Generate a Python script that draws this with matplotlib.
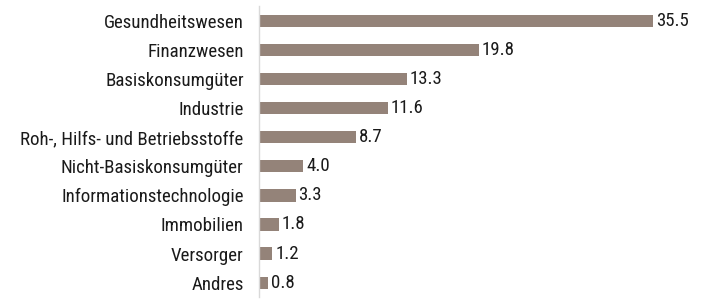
import matplotlib
matplotlib.use("Agg")
import matplotlib.pyplot as plt
from matplotlib import font_manager

categories = ["Gesundheitswesen", "Finanzwesen", "Basiskonsumgüter", "Industrie",
              "Roh-, Hilfs- und Betriebsstoffe", "Nicht-Basiskonsumgüter",
              "Informationstechnologie", "Immobilien", "Versorger", "Andres"]
values = [35.5, 19.8, 13.3, 11.6, 8.7, 4.0, 3.3, 1.8, 1.2, 0.8]

names = {f.name for f in font_manager.fontManager.ttflist}
fam = "DejaVu Sans"
for cand in ["Roboto Condensed", "Liberation Sans Narrow", "Archivo Narrow",
             "PT Sans Narrow", "Asap Condensed", "Barlow Condensed"]:
    if cand in names:
        fam = cand
        break
plt.rcParams['font.family'] = [fam, 'DejaVu Sans']

fig = plt.figure(figsize=(7.06, 3.0), dpi=100)
ax = fig.add_axes([259/706, 2.75/300, 440/706, 291/300])
ypos = list(range(len(categories)))
ax.barh(ypos, values, height=0.42, color="#948379")
ax.set_ylim(len(categories) - 0.5, -0.5)
ax.set_xlim(0, 39.6)
ax.set_yticks(ypos)
ax.set_yticklabels(categories, fontsize=13.6, color="#1a1a1a")
ax.tick_params(axis='y', length=0, pad=11)
ax.set_xticks([])
for s in ["top", "right", "bottom"]:
    ax.spines[s].set_visible(False)
ax.spines["left"].set_color("#d9d9d9")
ax.spines["left"].set_linewidth(1.0)
for y, v in zip(ypos, values):
    ax.text(v + 0.25, y, f"{v:.1f}", va="center", ha="left", fontsize=13.6, color="#1a1a1a")
fig.savefig("out.png", dpi=100)
